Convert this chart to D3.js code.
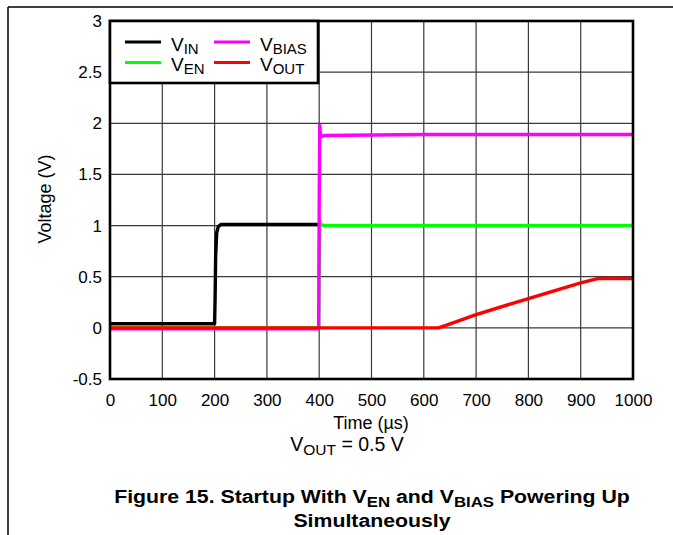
<!DOCTYPE html>
<html>
<head>
<meta charset="utf-8">
<script src="https://cdn.jsdelivr.net/npm/d3@7"></script>
<style>
  html, body { margin: 0; padding: 0; background: #fff; }
  svg { display: block; }
  text { font-family: "Liberation Sans", Arial, sans-serif; fill: #000; }
</style>
</head>
<body>
<svg id="chart" width="673" height="535"></svg>
<script>
// ---- data ----
const xTicks = [0, 100, 200, 300, 400, 500, 600, 700, 800, 900, 1000];
const yTicks = [-0.5, 0, 0.5, 1, 1.5, 2, 2.5, 3];
const yTickLabels = ["-0.5", "0", "0.5", "1", "1.5", "2", "2.5", "3"];

const vinTime  = [0, 200, 201, 202, 204, 207, 212, 300, 400];
const vinVolt  = [0.04, 0.04, 0.3, 0.7, 0.93, 0.99, 1.01, 1.01, 1.01];

const venTime  = [0, 399, 400, 401, 403, 410, 600, 800, 1000];
const venVolt  = [0.0, 0.0, 0.6, 1.05, 1.01, 1.0, 1.0, 1.0, 1.0];

const vbiasTime = [0, 200, 399, 400, 401, 402, 404, 410, 600, 800, 1000];
const vbiasVolt = [-0.01, -0.01, -0.01, 1.2, 1.98, 1.92, 1.87, 1.88, 1.89, 1.89, 1.89];

const voutTime = [0, 300, 400, 628, 645, 700, 800, 900, 934, 1000];
const voutVolt = [0.0, 0.0, 0.0, 0.0, 0.03, 0.13, 0.287, 0.44, 0.483, 0.483];

const seriesNames  = ["IN", "EN", "BIAS", "OUT"];
const seriesColors = ["#000000", "#00ff00", "#ff00ff", "#ff0000"];

// ---- layout ----
const svg = d3.select("#chart");
const pLeft = 110, pTop = 21, pWidth = 523, pHeight = 358;
const x = d3.scaleLinear().domain([0, 1000]).range([pLeft, pLeft + pWidth]);
const y = d3.scaleLinear().domain([-0.5, 3]).range([pTop + pHeight, pTop]);

// page frame lines
svg.append("line").attr("x1", 8).attr("x2", 673).attr("y1", 7).attr("y2", 7)
  .attr("stroke", "#000").attr("stroke-width", 1.5);
svg.append("line").attr("x1", 8).attr("x2", 8).attr("y1", 7).attr("y2", 535)
  .attr("stroke", "#000").attr("stroke-width", 1.5);

// grid
const grid = svg.append("g");
grid.selectAll("line.vx").data(xTicks.slice(1, -1)).join("line")
  .attr("x1", d => x(d)).attr("x2", d => x(d))
  .attr("y1", pTop).attr("y2", pTop + pHeight)
  .attr("stroke", "#3a3a3a").attr("stroke-width", 1.2);
grid.selectAll("line.hy").data(yTicks.slice(1, -1)).join("line")
  .attr("x1", pLeft).attr("x2", pLeft + pWidth)
  .attr("y1", d => y(d)).attr("y2", d => y(d))
  .attr("stroke", "#3a3a3a").attr("stroke-width", 1.2);

// axes labels
const xAxis = d3.axisBottom(x).tickValues(xTicks).tickSize(0).tickPadding(15).tickFormat(d3.format("d"));
svg.append("g").attr("transform", `translate(0,${pTop + pHeight})`).call(xAxis)
  .call(g => g.select(".domain").remove())
  .selectAll("text").style("font-size", "17px").style("font-family", "Liberation Sans, Arial, sans-serif");

const yAxis = d3.axisLeft(y).tickValues(yTicks).tickSize(0).tickPadding(8)
  .tickFormat((d, i) => yTickLabels[i]);
svg.append("g").attr("transform", `translate(${pLeft},0)`).call(yAxis)
  .call(g => g.select(".domain").remove())
  .selectAll("text").style("font-size", "17px").style("font-family", "Liberation Sans, Arial, sans-serif");

// traces
const line = d3.line().x(d => x(d[0])).y(d => y(d[1]));
const traces = [
  [vinTime, vinVolt],
  [venTime, venVolt],
  [vbiasTime, vbiasVolt],
  [voutTime, voutVolt]
];
svg.append("clipPath").attr("id", "clip").append("rect")
  .attr("x", pLeft).attr("y", pTop).attr("width", pWidth).attr("height", pHeight);
const tg = svg.append("g").attr("clip-path", "url(#clip)");
traces.forEach((t, i) => {
  const pts = t[0].map((tt, k) => [tt, t[1][k]]);
  tg.append("path").datum(pts).attr("d", line)
    .attr("fill", "none").attr("stroke", seriesColors[i])
    .attr("stroke-width", 3.4).attr("stroke-linejoin", "round");
});

// plot frame
svg.append("rect").attr("x", pLeft).attr("y", pTop).attr("width", pWidth).attr("height", pHeight)
  .attr("fill", "none").attr("stroke", "#000").attr("stroke-width", 2.6);

// legend
const lg = svg.append("g");
lg.append("rect").attr("x", pLeft).attr("y", pTop).attr("width", 208).attr("height", 62)
  .attr("fill", "#fff").attr("stroke", "#000").attr("stroke-width", 2.6);
const legPos = [[125, 42], [125, 62.5], [214, 42], [214, 62.5]];
seriesNames.forEach((n, i) => {
  const [lx, ly] = legPos[i];
  lg.append("line").attr("x1", lx).attr("x2", lx + 36).attr("y1", ly).attr("y2", ly)
    .attr("stroke", seriesColors[i]).attr("stroke-width", 3);
  const t = lg.append("text").attr("x", lx + 46).attr("y", ly + 8.5).style("font-size", "19px");
  t.append("tspan").text("V");
  t.append("tspan").attr("dy", 3).style("font-size", "15px").text(n);
});

// axis titles
svg.append("text").attr("transform", "translate(51,199) rotate(-90)")
  .attr("text-anchor", "middle").style("font-size", "18px").text("Voltage (V)");
svg.append("text").attr("x", 371).attr("y", 429)
  .attr("text-anchor", "middle").style("font-size", "18px").text("Time (µs)");

const vo = svg.append("text").attr("x", 347).attr("y", 451)
  .attr("text-anchor", "middle").style("font-size", "19.5px");
vo.append("tspan").text("V");
vo.append("tspan").attr("dy", 4).style("font-size", "15.5px").text("OUT");
vo.append("tspan").attr("dy", -4).text(" = 0.5 V");

// caption
const cap = svg.append("text").attr("transform", "translate(372,503) scale(1.12,1)")
  .attr("text-anchor", "middle").style("font-size", "19px").style("font-weight", "bold");
cap.append("tspan").text("Figure 15. Startup With V");
cap.append("tspan").attr("dy", 4).style("font-size", "15px").text("EN");
cap.append("tspan").attr("dy", -4).text(" and V");
cap.append("tspan").attr("dy", 4).style("font-size", "15px").text("BIAS");
cap.append("tspan").attr("dy", -4).text(" Powering Up");
svg.append("text").attr("transform", "translate(372,527) scale(1.12,1)")
  .attr("text-anchor", "middle").style("font-size", "19px").style("font-weight", "bold")
  .text("Simultaneously");
</script>
</body>
</html>
